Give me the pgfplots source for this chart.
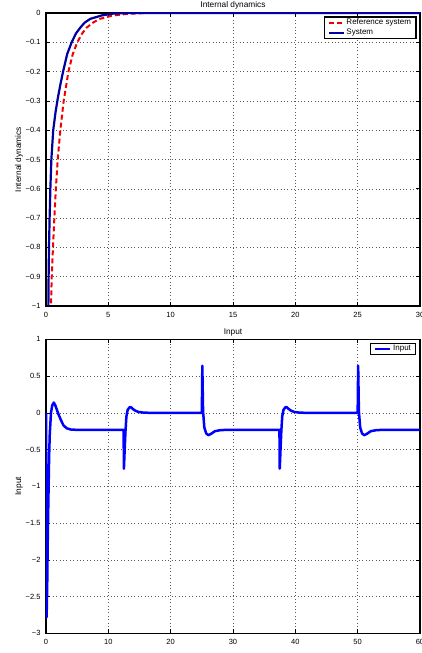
\documentclass[border=0pt]{standalone}
\usepackage{fontspec}
\setmainfont{Liberation Sans}
\usepackage{pgfplots}
\pgfplotsset{compat=1.18}

\definecolor{sysblue}{RGB}{0,0,160}
\definecolor{inblue}{RGB}{0,0,255}
\definecolor{refred}{RGB}{240,0,0}

\pgfplotsset{
  mat/.style={
    scale only axis,
    width=374pt,
    font=\fontsize{7.5}{8.5}\selectfont,
    tick align=inside,
    major tick length=4pt,
    axis line style={line width=1.1pt},
    major tick style={line width=0.6pt,black},
    grid=major,
    grid style={line width=0.5pt,gray!70!black,dash pattern=on 0.6pt off 2.8pt},
    xticklabel style={yshift=-2.5pt},
    yticklabel style={xshift=-2pt},
    title style={at={(axis description cs:0.5,1)},anchor=base,yshift=-1pt,font=\fontsize{8.3}{9}\selectfont},
    ylabel style={at={(axis description cs:-0.072,0.5)},anchor=center,font=\fontsize{8.3}{9}\selectfont},
    legend style={at={(1,1)},anchor=north east,xshift=-3.5pt,yshift=-3.5pt,
      draw=black,line width=1.1pt,font=\fontsize{8}{9}\selectfont,
      inner xsep=3.5pt,inner ysep=0.5pt,row sep=0pt,
      nodes={inner sep=1.5pt}},
    legend cell align=left,
    legend image code/.code={\draw[#1] (0pt,0pt) -- (15pt,0pt);},
  }
}

\begin{document}
\begin{tikzpicture}
\useasboundingbox (0,0) rectangle (422pt,653pt);

\begin{axis}[mat,
  at={(46pt,347pt)}, anchor=south west,
  height=293pt,
  xmin=0, xmax=30, ymin=-1, ymax=0,
  xtick={0,5,10,15,20,25,30},
  xticklabels={0,5,10,15,20,25,30},
  ytick={-1,-0.9,-0.8,-0.7,-0.6,-0.5,-0.4,-0.3,-0.2,-0.1,0},
  yticklabels={−1,−0.9,−0.8,−0.7,−0.6,−0.5,−0.4,−0.3,−0.2,−0.1,0},
  title={Internal dynamics},
  ylabel={Internal dynamics},
]
\addplot[refred, line width=2pt, dash pattern=on 5pt off 3pt, line join=round] coordinates {
 (0.35,-1.1) (0.40,-1) (0.46,-0.9) (0.56,-0.8) (0.67,-0.7) (0.79,-0.6) (0.94,-0.5)
 (1.15,-0.4) (1.42,-0.3) (1.80,-0.2) (2.15,-0.14) (2.51,-0.1) (2.9,-0.07) (3.26,-0.05)
 (3.8,-0.032) (4.33,-0.02) (5.3,-0.009) (6.5,-0.003) (8,0) (30,0)
};
\addlegendentry{Reference system}
\addplot[sysblue, line width=2.2pt, line join=round] coordinates {
 (0.15,-1.1) (0.19,-1) (0.21,-0.9) (0.24,-0.8) (0.29,-0.7) (0.35,-0.6) (0.43,-0.5)
 (0.58,-0.4) (0.76,-0.34) (0.95,-0.29) (1.15,-0.245) (1.37,-0.2) (1.7,-0.14) (2.06,-0.1) (2.4,-0.07)
 (2.75,-0.05) (3.1,-0.033) (3.55,-0.02) (4.5,-0.008) (5.4,-0.002) (7,0) (30,0)
};
\addlegendentry{System}
\end{axis}

\begin{axis}[mat,
  at={(46pt,19.7pt)}, anchor=south west,
  height=294pt,
  xmin=0, xmax=60, ymin=-3, ymax=1,
  xtick={0,10,20,30,40,50,60},
  xticklabels={0,10,20,30,40,50,60},
  ytick={-3,-2.5,-2,-1.5,-1,-0.5,0,0.5,1},
  yticklabels={−3,−2.5,−2,−1.5,−1,−0.5,0,0.5,1},
  title={Input},
  ylabel={Input},
]
\addplot[inblue, line width=2.5pt, line join=round] coordinates {
 (0,0) (0.1,-2.78) (0.2,-2.3) (0.3,-1.6) (0.4,-1.1) (0.5,-0.6) (0.6,-0.3) (0.8,0)
 (1.0,0.1) (1.25,0.14) (1.5,0.1) (1.75,0.04) (2.0,-0.02) (2.4,-0.1) (2.8,-0.17)
 (3.3,-0.21) (4,-0.228) (5,-0.232)
 (12.45,-0.232) (12.5,-0.76) (12.6,-0.55) (12.75,-0.25) (12.9,-0.05) (13.1,0.04)
 (13.4,0.075) (13.6,0.078) (13.9,0.055) (14.3,0.03) (14.8,0.012) (15.6,0.003) (16.5,0)
 (25.0,0) (25.08,0.64) (25.2,0.02) (25.4,-0.2) (25.7,-0.28) (26.05,-0.305) (26.5,-0.285)
 (27.1,-0.25) (28,-0.236) (29,-0.232)
 (37.45,-0.232) (37.5,-0.76) (37.6,-0.55) (37.75,-0.25) (37.9,-0.05) (38.1,0.04)
 (38.4,0.075) (38.6,0.078) (38.9,0.055) (39.3,0.03) (39.8,0.012) (40.6,0.003) (41.5,0)
 (50.0,0) (50.08,0.64) (50.2,0.02) (50.4,-0.2) (50.7,-0.28) (51.05,-0.305) (51.5,-0.285)
 (52.1,-0.25) (53,-0.236) (54,-0.232) (60,-0.232)
};
\addlegendentry{Input}
\end{axis}
\end{tikzpicture}
\end{document}
